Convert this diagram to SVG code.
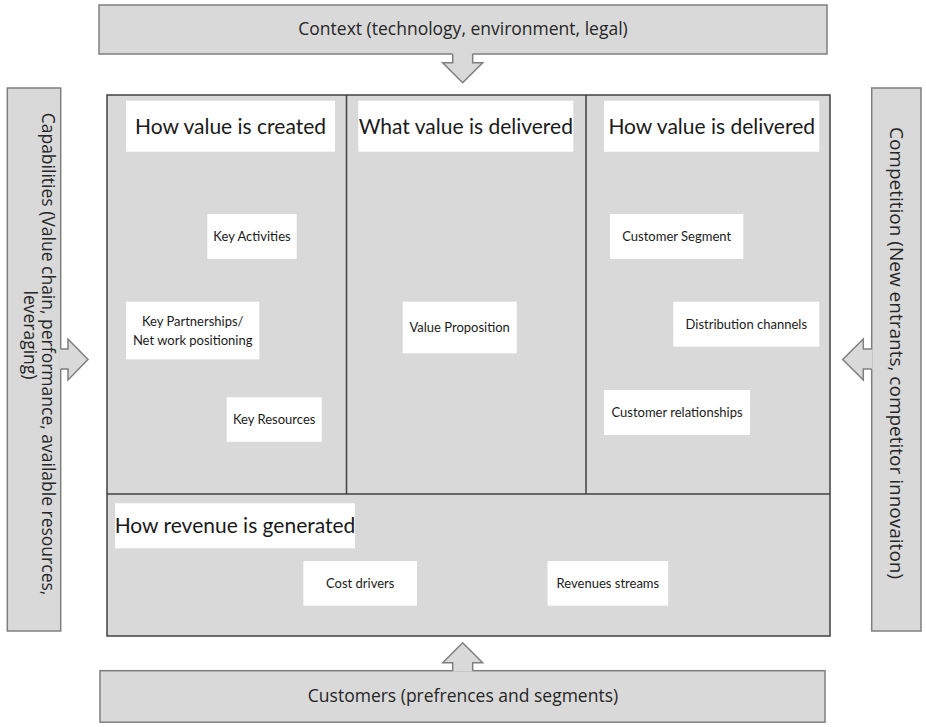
<svg xmlns="http://www.w3.org/2000/svg" width="926" height="727" viewBox="0 0 926 727">
<style>
.side{fill:#d9d9d9;stroke:#7f7f7f;stroke-width:1.5}
.main{fill:#d9d9d9;stroke:#404040;stroke-width:1.5}
.div{stroke:#404040;stroke-width:1.5;fill:none}
.wb{fill:#ffffff}
.afill{fill:#d9d9d9;stroke:none}
.aline{fill:none;stroke:#7f7f7f;stroke-width:1.5;stroke-linejoin:miter}
.st{font-family:"Open Sans","Liberation Sans",sans-serif;font-size:17.5px;fill:#262626;text-anchor:middle}
.hd{font-family:Lato,"Liberation Sans",sans-serif;font-size:21px;fill:#1a1a1a;text-anchor:middle}
.sm{font-family:Lato,"Liberation Sans",sans-serif;font-size:13px;fill:#1a1a1a;text-anchor:middle}
</style>
<rect width="926" height="727" fill="#ffffff"/>

<g id="main-canvas">
<rect class="main" x="107" y="95" width="723" height="541"/>
<line class="div" x1="346.5" y1="95" x2="346.5" y2="494"/>
<line class="div" x1="586" y1="95" x2="586" y2="494"/>
<line class="div" x1="107" y1="494" x2="830" y2="494"/>
</g>

<g id="context">
<rect class="side" x="99" y="5" width="728" height="49"/>
<text class="st" x="463" y="35">Context (technology, environment, legal)</text>
</g>

<g id="customers">
<rect class="side" x="100" y="670.7" width="725" height="51.5"/>
<text class="st" x="463" y="702">Customers (prefrences and segments)</text>
</g>

<g id="capabilities">
<rect class="side" x="7.3" y="88" width="53.4" height="543"/>
<text class="st" transform="translate(42,354) rotate(90)" x="0" y="0">Capabilities (Value chain, performance, available resources,</text>
<text class="st" transform="translate(24,335) rotate(90)" x="0" y="0">leveraging)</text>
</g>

<g id="competition">
<rect class="side" x="871.7" y="88" width="49.3" height="543"/>
<text class="st" style="font-size:19px" transform="translate(890,353) rotate(90)" x="0" y="0">Competition (New entrants, competitor innovaiton)</text>
</g>

<g id="how-value-created">
<rect class="wb" x="126" y="100.7" width="209" height="51"/>
<text class="hd" x="230.5" y="133.5">How value is created</text>
</g>
<g id="what-value-delivered">
<rect class="wb" x="358.3" y="100.7" width="215" height="51"/>
<text class="hd" x="465.8" y="133.5">What value is delivered</text>
</g>
<g id="how-value-delivered">
<rect class="wb" x="604" y="100.7" width="215.3" height="51"/>
<text class="hd" x="711.7" y="133.5">How value is delivered</text>
</g>
<g id="how-revenue-generated">
<rect class="wb" x="115" y="503.3" width="240" height="45"/>
<text class="hd" x="235" y="533">How revenue is generated</text>
</g>

<g id="key-activities">
<rect class="wb" x="207.3" y="214" width="89.4" height="45"/>
<text class="sm" x="252" y="241">Key Activities</text>
</g>
<g id="key-partnerships">
<rect class="wb" x="126" y="301.7" width="133.3" height="57.6"/>
<text class="sm" x="192.7" y="326">Key Partnerships/</text>
<text class="sm" x="192.7" y="344.5">Net work positioning</text>
</g>
<g id="key-resources">
<rect class="wb" x="226.7" y="397.3" width="95" height="44.4"/>
<text class="sm" x="274.2" y="424">Key Resources</text>
</g>
<g id="value-proposition">
<rect class="wb" x="402.7" y="301.7" width="114" height="51.6"/>
<text class="sm" x="459.7" y="332">Value Proposition</text>
</g>
<g id="customer-segment">
<rect class="wb" x="610" y="214" width="133.3" height="45"/>
<text class="sm" x="676.7" y="241">Customer Segment</text>
</g>
<g id="distribution-channels">
<rect class="wb" x="673.3" y="301.7" width="146" height="45"/>
<text class="sm" x="746.3" y="329">Distribution channels</text>
</g>
<g id="customer-relationships">
<rect class="wb" x="604" y="390" width="146" height="45"/>
<text class="sm" x="677" y="417">Customer relationships</text>
</g>
<g id="cost-drivers">
<rect class="wb" x="303.4" y="561" width="113.6" height="44.7"/>
<text class="sm" x="360.2" y="588">Cost drivers</text>
</g>
<g id="revenues-streams">
<rect class="wb" x="547.6" y="561" width="120.6" height="44.7"/>
<text class="sm" x="607.9" y="588">Revenues streams</text>
</g>

<g id="connectors">
<polygon class="afill" points="452.7,53 472.7,53 472.7,62.7 482.7,62.7 462.7,82.7 442.7,62.7 452.7,62.7"/>
<polyline class="aline" points="452.7,54 452.7,62.7 442.7,62.7 462.7,82.7 482.7,62.7 472.7,62.7 472.7,54"/>
<polygon class="afill" points="452.7,671.5 472.7,671.5 472.7,662.7 482.7,662.7 462.7,642.7 442.7,662.7 452.7,662.7"/>
<polyline class="aline" points="452.7,670.7 452.7,662.7 442.7,662.7 462.7,642.7 482.7,662.7 472.7,662.7 472.7,670.7"/>
<polygon class="afill" points="60,349 68,349 68,339 88,359.5 68,380 68,369 60,369"/>
<polyline class="aline" points="60.7,349 68,349 68,339 88,359.5 68,380 68,369 60.7,369"/>
<polygon class="afill" points="872.5,349 863.3,349 863.3,339 842.7,359.5 863.3,380 863.3,369 872.5,369"/>
<polyline class="aline" points="871.7,349 863.3,349 863.3,339 842.7,359.5 863.3,380 863.3,369 871.7,369"/>
</g>
</svg>
